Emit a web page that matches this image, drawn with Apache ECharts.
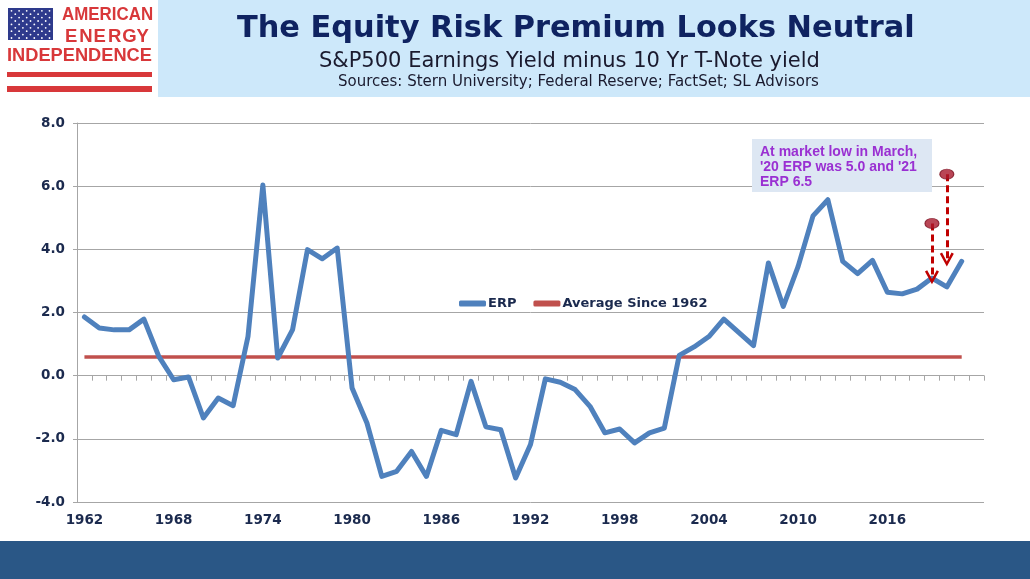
<!DOCTYPE html>
<html lang="en">
<head>
    <meta charset="UTF-8">
    <title>The Equity Risk Premium Looks Neutral</title>
    <script src="https://cdn.jsdelivr.net/npm/echarts@6/dist/echarts.min.js"></script>
    <style>
        html, body { margin: 0; padding: 0; background: #fff; }
    </style>
</head>
<body>
<div id="main" style="width: 1030px;height:579px;"></div>
<script type="text/javascript">
    // years on the category axis (last slot is left empty, like the original)
    var years = ['1962', '1963', '1964', '1965', '1966', '1967', '1968', '1969', '1970', '1971',
        '1972', '1973', '1974', '1975', '1976', '1977', '1978', '1979', '1980', '1981',
        '1982', '1983', '1984', '1985', '1986', '1987', '1988', '1989', '1990', '1991',
        '1992', '1993', '1994', '1995', '1996', '1997', '1998', '1999', '2000', '2001',
        '2002', '2003', '2004', '2005', '2006', '2007', '2008', '2009', '2010', '2011',
        '2012', '2013', '2014', '2015', '2016', '2017', '2018', '2019', '2020', '2021', ''];

    // ERP = S&P500 earnings yield minus 10 yr T-note yield
    var erp = [1.86, 1.51, 1.45, 1.45, 1.79, 0.61, -0.13, -0.04, -1.34, -0.71,
        -0.95, 1.24, 6.04, 0.56, 1.46, 3.99, 3.70, 4.04, -0.39, -1.50,
        -3.19, -3.03, -2.40, -3.19, -1.73, -1.87, -0.18, -1.62, -1.71, -3.24,
        -2.18, -0.10, -0.21, -0.44, -0.97, -1.81, -1.69, -2.13, -1.81, -1.66,
        0.64, 0.91, 1.24, 1.79, 1.37, 0.95, 3.57, 2.19, 3.46, 5.06,
        5.57, 3.62, 3.23, 3.65, 2.64, 2.59, 2.74, 3.09, 2.81, 3.62];

    // average since 1962, drawn from first to last year
    var avgData = [['1962', 0.59], ['2021', 0.59]];

    // market-low markers ('20 and '21) with dashed arrows down to the year-end value
    var arrowYears = ['2019', '2020'];
    var arrowFrom = [4.82, 6.38];
    var arrowTo = [3.12, 3.68];

    var yTicks = [-4, -2, 0, 2, 4, 6, 8];

    var navy = '#1b2a4e';
    var red = '#d8383a';
    var font = 'DejaVu Sans';

    var myChart = echarts.init(document.getElementById('main'));

    // star pattern for the little flag in the logo
    var stars = [];
    for (var r = 0; r < 9; r++) {
        var cols = r % 2 === 0 ? 6 : 5;
        for (var c = 0; c < cols; c++) {
            stars.push({
                type: 'circle',
                shape: {cx: 11.5 + c * 7.6 + (r % 2 === 0 ? 0 : 3.8), cy: 10.8 + r * 3.4, r: 0.9},
                style: {fill: '#ffffff'}
            });
        }
    }

    // spaced-out "ENERGY" of the logo
    var energy = 'ENERGY'.split('').map(function (ch, i) {
        return {
            type: 'text', x: 65 + i * 14.3, y: 27,
            style: {text: ch, fill: red, font: 'bold 18.5px "Liberation Sans"'}
        };
    });

    var markLines = arrowYears.map(function (y, i) {
        return [{coord: [y, arrowFrom[i]]}, {coord: [y, arrowTo[i]]}];
    });
    var dots = arrowYears.map(function (y, i) {
        return [y, arrowFrom[i]];
    });

    myChart.setOption({
        animation: false,
        textStyle: {fontFamily: font},
        grid: {left: 77, right: 46, top: 123, bottom: 77},
        legend: {
            left: 459,
            top: 297,
            padding: 0,
            icon: 'roundRect',
            itemWidth: 27,
            itemHeight: 6,
            itemGap: 17,
            textStyle: {color: navy, fontWeight: 'bold', fontSize: 13, fontFamily: font, padding: [0, 0, 0, -3]},
            data: ['ERP', 'Average Since 1962']
        },
        xAxis: [
            {
                // labels at the bottom
                type: 'category',
                data: years,
                boundaryGap: true,
                axisLine: {show: false, onZero: false},
                axisTick: {show: false},
                axisLabel: {
                    color: navy,
                    fontWeight: 'bold',
                    fontSize: 13.5,
                    margin: 11,
                    interval: function (i) {
                        return i % 6 === 0;
                    }
                }
            },
            {
                // axis line with ticks crossing at zero
                type: 'category',
                data: years,
                position: 'bottom',
                boundaryGap: true,
                axisLine: {show: true, onZero: true, lineStyle: {color: '#a6a6a6', width: 1}},
                axisTick: {show: true, interval: 0, length: 5, lineStyle: {color: '#a6a6a6'}},
                axisLabel: {show: false}
            }
        ],
        yAxis: {
            type: 'value',
            min: yTicks[0],
            max: yTicks[yTicks.length - 1],
            interval: 2,
            axisLine: {show: true, lineStyle: {color: '#a6a6a6'}},
            axisTick: {show: true, length: 4, lineStyle: {color: '#a6a6a6'}},
            splitLine: {lineStyle: {color: '#a6a6a6', width: 1}},
            axisLabel: {
                color: navy,
                fontWeight: 'bold',
                fontSize: 13.5,
                margin: 12,
                formatter: function (v) {
                    return v.toFixed(1);
                }
            }
        },
        series: [
            {
                name: 'Average Since 1962',
                type: 'line',
                xAxisIndex: 0,
                data: avgData,
                symbol: 'none',
                itemStyle: {color: '#c0504d'},
                lineStyle: {color: '#c0504d', width: 3.5},
                z: 2
            },
            {
                name: 'ERP',
                type: 'line',
                xAxisIndex: 0,
                data: erp,
                symbol: 'none',
                itemStyle: {color: '#4f81bd'},
                lineStyle: {color: '#4f81bd', width: 5, join: 'round', cap: 'round'},
                z: 3,
                markLine: {
                    silent: true,
                    symbol: ['none', 'path://M0,9 L5,0 L10,9 L8.4,10 L5,3.6 L1.6,10 Z'],
                    symbolSize: 14,
                    label: {show: false},
                    itemStyle: {color: '#c00000'},
                    lineStyle: {color: '#c00000', width: 3, type: [7, 4]},
                    data: markLines
                }
            },
            {
                name: 'markers',
                type: 'scatter',
                xAxisIndex: 0,
                data: dots,
                symbol: 'circle',
                symbolSize: [14, 10],
                itemStyle: {color: '#a8182c', borderColor: '#7a0f1f', borderWidth: 1},
                z: 5
            }
        ],
        graphic: [
            // header band
            {type: 'rect', shape: {x: 158, y: 0, width: 872, height: 97}, style: {fill: '#cde8fa'}, z: -1},
            {
                type: 'text', left: 237, top: 14,
                style: {
                    text: 'The Equity Risk Premium Looks Neutral',
                    fill: '#0f2361', font: 'bold 30.4px "DejaVu Sans"'
                }
            },
            {
                type: 'text', left: 319, top: 51,
                style: {
                    text: 'S&P500 Earnings Yield minus 10 Yr T-Note yield',
                    fill: '#1a1a2e', font: '21px "DejaVu Sans"'
                }
            },
            {
                type: 'text', left: 338, top: 75,
                style: {
                    text: 'Sources: Stern University; Federal Reserve; FactSet; SL Advisors',
                    fill: '#1a1a2e', font: '15px "DejaVu Sans"'
                }
            },
            // logo
            {type: 'rect', shape: {x: 8, y: 8, width: 45, height: 32}, style: {fill: '#2e3a8c'}},
            {type: 'group', children: stars},
            {
                type: 'text', x: 62, y: 5, scaleX: 0.89,
                style: {text: 'AMERICAN', fill: red, font: 'bold 19px "Liberation Sans"'}
            },
            {type: 'group', children: energy},
            {
                type: 'text', x: 7, y: 46, scaleX: 0.96,
                style: {text: 'INDEPENDENCE', fill: red, font: 'bold 19px "Liberation Sans"'}
            },
            {type: 'rect', shape: {x: 7, y: 72, width: 145, height: 5}, style: {fill: red}},
            {type: 'rect', shape: {x: 7, y: 86, width: 145, height: 6}, style: {fill: red}},
            // annotation box
            {type: 'rect', shape: {x: 752, y: 139, width: 180, height: 53}, style: {fill: '#dde7f3'}, z: 10},
            {
                type: 'text', left: 760, top: 144, z: 11,
                style: {
                    text: "At market low in March,\n'20 ERP was 5.0 and '21\nERP 6.5",
                    fill: '#9a30d2',
                    fontFamily: 'Liberation Sans',
                    fontWeight: 'bold',
                    fontSize: 14,
                    lineHeight: 15.3
                }
            },
            // footer band
            {type: 'rect', shape: {x: 0, y: 541, width: 1030, height: 38}, style: {fill: '#2a5786'}}
        ]
    });
</script>
</body>
</html>
